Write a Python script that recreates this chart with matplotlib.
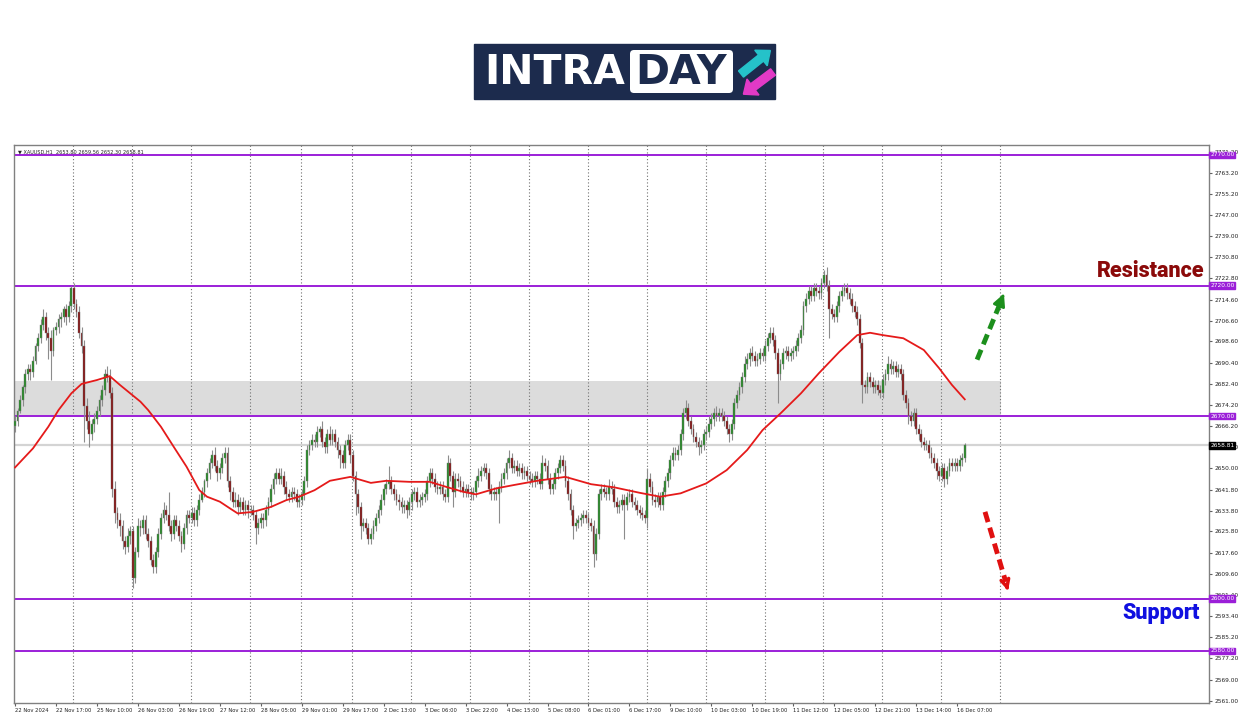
import numpy as np
import matplotlib.pyplot as plt
from matplotlib.patches import Rectangle, FancyBboxPatch, FancyArrow

# XAUUSD H1 closes, one list per trading day (22 Nov .. 16 Dec)
d1 = [2668, 2672, 2676, 2681, 2686, 2688, 2687, 2691, 2697, 2700, 2705, 2708, 2702, 2700, 2695, 2703, 2704, 2707, 2708, 2711, 2708, 2712, 2719]
d2 = [2713, 2710, 2702, 2697, 2674, 2668, 2663, 2667, 2669, 2672, 2676, 2680, 2686, 2685, 2679, 2642, 2633, 2630, 2628, 2622, 2620, 2624, 2626]
d3 = [2608, 2618, 2628, 2627, 2630, 2625, 2622, 2615, 2612, 2618, 2625, 2631, 2634, 2632, 2628, 2625, 2630, 2628, 2624, 2621, 2627, 2632, 2631]
d4 = [2633, 2630, 2634, 2638, 2641, 2645, 2648, 2652, 2655, 2651, 2648, 2650, 2654, 2656, 2645, 2641, 2637, 2638, 2635, 2637, 2634, 2636, 2634]
d5 = [2634, 2632, 2627, 2629, 2631, 2630, 2634, 2637, 2642, 2646, 2648, 2646, 2647, 2643, 2640, 2639, 2641, 2640, 2637, 2638]
d6 = [2640, 2645, 2657, 2659, 2661, 2660, 2664, 2665, 2660, 2658, 2663, 2661, 2663, 2660, 2657, 2655, 2652, 2659, 2661, 2655]
d7 = [2647, 2640, 2635, 2628, 2629, 2627, 2623, 2625, 2628, 2631, 2634, 2638, 2642, 2644, 2645, 2642, 2640, 2638, 2637, 2635, 2636, 2634, 2637]
d8 = [2640, 2641, 2637, 2638, 2639, 2640, 2645, 2648, 2646, 2643, 2642, 2643, 2640, 2639, 2652, 2647, 2641, 2646, 2645, 2643, 2641, 2642, 2641]
d9 = [2640, 2641, 2645, 2647, 2649, 2650, 2648, 2642, 2640, 2641, 2640, 2643, 2646, 2648, 2652, 2654, 2650, 2651, 2649, 2650, 2648, 2649, 2647]
d10 = [2646, 2645, 2647, 2646, 2644, 2652, 2651, 2646, 2642, 2644, 2648, 2650, 2653, 2651, 2645, 2640, 2634, 2628, 2629, 2630, 2631, 2632, 2631]
d11 = [2629, 2628, 2617, 2625, 2640, 2642, 2641, 2640, 2643, 2642, 2637, 2635, 2636, 2638, 2636, 2639, 2640, 2637, 2636, 2634, 2633, 2632, 2631]
d12 = [2646, 2643, 2638, 2637, 2639, 2636, 2641, 2645, 2648, 2653, 2656, 2655, 2657, 2663, 2671, 2673, 2668, 2665, 2662, 2660, 2658, 2659, 2663]
d13 = [2664, 2667, 2669, 2671, 2670, 2671, 2670, 2668, 2665, 2663, 2667, 2675, 2678, 2681, 2685, 2690, 2692, 2694, 2693, 2691, 2692, 2694, 2693]
d14 = [2697, 2700, 2702, 2699, 2694, 2686, 2690, 2694, 2695, 2693, 2694, 2695, 2697, 2700, 2703, 2712, 2715, 2718, 2716, 2719, 2718, 2717, 2721]
d15 = [2724, 2720, 2711, 2709, 2708, 2712, 2716, 2718, 2719, 2717, 2715, 2712, 2710, 2707, 2698, 2682, 2681, 2685, 2683, 2681, 2682, 2680, 2679]
d16 = [2684, 2686, 2690, 2688, 2689, 2687, 2688, 2686, 2678, 2675, 2670, 2668, 2671, 2665, 2663, 2660, 2659, 2659, 2656, 2654, 2652, 2649, 2647]
d17 = [2650, 2646, 2649, 2652, 2651, 2652, 2651, 2653, 2653.8, 2658.81]

# wick length above / below the body
u1 = [2,1,2,1,2,2,2,2,1,2,2,3,2,2,3,1,2,2,2,1,2,2,1]
u2 = [2,2,2,2,2,3,4,2,2,2,2,2,2,3,3,2,3,2,3,2,2,3,2]
u3 = [2,2,3,2,2,2,2,2,2,2,2,2,3,2,9,2,2,2,2,2,2,2,2]
u4 = [2,2,2,2,2,1,2,2,2,3,2,2,2,2,2,2,2,3,2,2,2,2,2]
u5 = [2,2,2,2,2,2,2,2,2,2,2,2,3,2,2,2,2,2,2,2]
u6 = [2,2,2,2,2,2,2,1,3,2,2,3,2,2,2,2,2,2,2,2]
u7 = [2,2,2,2,2,2,2,2,2,2,2,2,2,2,6,2,2,2,2,2,2,2,2]
u8 = [2,2,2,2,2,2,2,2,2,2,2,2,2,2,3,2,2,2,2,2,2,2,2]
u9 = [2,2,2,3,2,2,2,2,2,2,2,2,2,2,2,3,2,2,2,2,2,2,2]
u10 = [2,2,2,2,2,3,2,2,2,2,2,2,2,2,2,2,2,2,2,2,2,2,2]
u11 = [2,2,2,2,2,2,2,2,3,2,2,2,2,2,2,2,2,2,2,2,2,2,2]
u12 = [4,2,2,2,2,2,2,2,2,2,2,2,2,2,2,3,2,2,2,2,2,2,2]
u13 = [2,3,2,2,3,2,2,2,2,2,2,2,2,2,2,3,2,2,3,2,2,2,2]
u14 = [2,2,2,2,2,2,2,2,2,2,2,2,2,2,2,2,2,2,2,2,2,2,2]
u15 = [2,3,2,2,2,2,2,2,2,2,2,2,2,2,2,2,2,2,2,2,2,2,2]
u16 = [2,2,3,2,2,2,2,2,2,2,2,2,2,2,2,2,2,2,2,2,2,2,2]
u17 = [2,2,2,2,2,2,2,2,2,0.75]

l1 = [2,2,1,2,2,2,3,2,1,2,2,2,3,8,11,2,2,2,3,2,3,2,2]
l2 = [2,2,2,3,14,3,5,2,3,2,2,2,2,2,2,3,4,3,4,3,3,2,3]
l3 = [4,2,2,3,2,2,2,2,2,2,2,2,2,2,2,3,2,2,2,3,2,2,2]
l4 = [2,2,2,2,1,2,2,2,2,2,3,2,2,2,2,3,2,2,3,2,2,2,3]
l5 = [2,2,6,2,2,3,2,2,2,2,2,2,2,3,2,2,2,2,2,2]
l6 = [2,2,2,2,2,2,2,2,2,2,2,2,2,2,3,5,2,2,2,3]
l7 = [2,8,2,5,2,2,2,2,2,2,2,2,2,2,2,2,2,2,3,2,2,3,2]
l8 = [3,2,2,2,2,2,2,2,2,2,2,2,2,2,2,2,6,2,2,2,2,2,2]
l9 = [2,2,2,2,2,2,2,2,2,2,2,11,2,2,2,2,2,2,2,2,2,2,2]
l10 = [2,2,2,2,2,2,2,2,2,2,2,2,2,2,2,2,2,5,2,2,2,2,2]
l11 = [2,2,5,2,2,2,2,2,2,2,2,2,2,2,13,2,2,2,2,2,2,2,2]
l12 = [4,2,2,2,2,2,2,2,2,2,2,2,2,2,2,2,2,2,2,2,3,2,2]
l13 = [2,2,2,3,2,2,2,2,2,3,2,2,2,2,2,2,2,3,2,2,2,2,2]
l14 = [2,2,2,2,2,11,2,2,2,2,2,2,2,2,2,2,2,2,2,2,2,2,2]
l15 = [2,2,11,2,2,2,2,2,2,2,2,2,2,2,2,7,2,2,2,2,2,2,2]
l16 = [2,2,2,2,2,2,2,2,2,2,3,2,2,2,2,2,2,2,2,2,2,3,2]
l17 = [2,3,2,2,2,2,2,2,2,1.5]

first_open = 2666.0

# red moving average, read at bar positions
ma_idx = [0, 7, 13, 17, 22, 26, 32, 37, 41, 45, 49, 52, 57, 62, 67, 72, 75, 80, 84, 87, 93, 100,
          106, 111, 117, 123, 131, 139, 145, 154, 162, 169, 175, 180, 188, 195, 204, 215, 225, 234,
          244, 252, 260, 270, 278, 286, 292, 299, 307, 314, 322, 329, 334, 339, 347, 355, 361, 366, 371]
ma_val = [2650.3, 2657.6, 2665.9, 2672.3, 2678.7, 2682.3, 2683.8, 2685.3, 2681.9, 2678.7, 2675.5,
          2672.3, 2665.9, 2658.2, 2650.6, 2641.6, 2639.1, 2637.2, 2634.6, 2632.7, 2633.3, 2635.2,
          2637.8, 2639.1, 2641.6, 2645.2, 2646.7, 2644.4, 2645.2, 2644.8, 2644.8, 2642.7, 2641.0,
          2640.0, 2642.3, 2643.6, 2645.2, 2646.7, 2643.9, 2642.7, 2640.6, 2639.1, 2640.4, 2644.2,
          2649.3, 2657.0, 2664.6, 2671.0, 2678.7, 2686.4, 2694.6, 2701.0, 2701.9, 2701.0, 2699.8,
          2695.3, 2688.3, 2681.9, 2676.4]

levels = [2770, 2720, 2670, 2600, 2580]
zone = (2670, 2683.5)
last_price = 2658.81
day_starts = [23, 46, 69, 92, 112, 132, 155, 178, 201, 224, 247, 270, 293, 316, 339, 362, 385]

yticks = [2561.00, 2569.00, 2577.20, 2585.20, 2593.40, 2601.40, 2609.60, 2617.60, 2625.80, 2633.80,
          2641.80, 2650.00, 2658.00, 2666.20, 2674.20, 2682.40, 2690.40, 2698.60, 2706.60, 2714.60,
          2722.80, 2730.80, 2739.00, 2747.00, 2755.20, 2763.20, 2771.20]
xtick_labels = ['22 Nov 2024', '22 Nov 17:00', '25 Nov 10:00', '26 Nov 03:00', '26 Nov 19:00',
                '27 Nov 12:00', '28 Nov 05:00', '29 Nov 01:00', '29 Nov 17:00', '2 Dec 13:00',
                '3 Dec 06:00', '3 Dec 22:00', '4 Dec 15:00', '5 Dec 08:00', '6 Dec 01:00',
                '6 Dec 17:00', '9 Dec 10:00', '10 Dec 03:00', '10 Dec 19:00', '11 Dec 12:00',
                '12 Dec 05:00', '12 Dec 21:00', '13 Dec 14:00', '16 Dec 07:00']

closes = np.array(d1 + d2 + d3 + d4 + d5 + d6 + d7 + d8 + d9 + d10 + d11 + d12 + d13 + d14 + d15 + d16 + d17, float)
up = np.array(u1 + u2 + u3 + u4 + u5 + u6 + u7 + u8 + u9 + u10 + u11 + u12 + u13 + u14 + u15 + u16 + u17, float)
dn = np.array(l1 + l2 + l3 + l4 + l5 + l6 + l7 + l8 + l9 + l10 + l11 + l12 + l13 + l14 + l15 + l16 + l17, float)
assert len(closes) == len(up) == len(dn) == 372, (len(closes), len(up), len(dn))

opens = np.r_[first_open, closes[:-1]]
x = np.arange(len(closes))
hi = np.maximum(opens, closes) + up
lo = np.minimum(opens, closes) - dn

purple = '#9b1fd8'

fig = plt.figure(figsize=(12.5, 7.16), dpi=100)
ax = fig.add_axes([14 / 1250, 13 / 716, 1195 / 1250, 558 / 716])
ax.set_xlim(-0.4, 466.4)
ax.set_ylim(2560.08, 2773.83)

# shaded zone, grid, levels
ax.add_patch(Rectangle((-0.4, zone[0]), 385.4, zone[1] - zone[0], color='#dcdcdc', zorder=1, lw=0))
for d in day_starts:
    ax.axvline(d - 0.2, color='#707070', lw=0.8, ls=(0, (1, 2)), zorder=1.5)
ax.axhline(last_price, color='#d4d4d4', lw=1.6, zorder=1.6)
for lv in levels:
    ax.axhline(lv, color=purple, lw=1.4, zorder=2)

# candles
ax.vlines(x, lo, hi, color='#8c8c8c', lw=0.8, zorder=3)
body = np.maximum(np.abs(closes - opens), 0.3)
bull = closes >= opens
ax.bar(x[bull], body[bull], bottom=opens[bull], width=0.7, color='#248a24', edgecolor='#7a7a7a', lw=0.3, zorder=4)
ax.bar(x[~bull], body[~bull], bottom=closes[~bull], width=0.7, color='#861010', edgecolor='#7a7a7a', lw=0.3, zorder=4)

ax.plot(ma_idx, ma_val, color='#e51a1a', lw=1.3, zorder=5, solid_joinstyle='round')

# arrows
ax.plot([375.8, 385.0], [2691.6, 2713.6], color='#1c8f1c', lw=3.5, dashes=(2.2, 1.2), zorder=6)
ax.annotate('', xy=(386.3, 2716.9), xytext=(385.8, 2715.7),
            arrowprops=dict(arrowstyle='-|>', color='#1c8f1c', lw=2, mutation_scale=18, shrinkA=0, shrinkB=0), zorder=6)
ax.plot([378.9, 387.0], [2633.3, 2606.5], color='#e01010', lw=3.5, dashes=(2.2, 1.2), zorder=6)
ax.annotate('', xy=(387.9, 2603.1), xytext=(387.5, 2604.5),
            arrowprops=dict(arrowstyle='->', color='#e01010', lw=2.5, mutation_scale=14, shrinkA=0, shrinkB=0), zorder=6)

ax.text(464.5, 2725.7, 'Resistance', color='#8b0a0a', fontsize=15.5, fontweight='heavy',
        family='Roboto', ha='right', va='center', zorder=7)
ax.text(462.9, 2594.6, 'Support', color='#1010e0', fontsize=15.5, fontweight='heavy',
        family='Roboto', ha='right', va='center', zorder=7)

ax.text(0.003, 0.993, '\u25bc XAUUSD,H1  2653.80 2659.56 2652.30 2658.81', transform=ax.transAxes,
        fontsize=3.6, color='#222222', va='top', ha='left', zorder=7)

# axes styling
for s in ax.spines.values():
    s.set_color('#808080')
    s.set_linewidth(1)
ax.yaxis.tick_right()
ax.set_yticks(yticks)
ax.set_yticklabels([f'{v:.2f}' for v in yticks])
ax.tick_params(axis='y', labelsize=4.2, length=2, pad=2, color='#606060', labelcolor='#222222')
ax.set_xticks(np.arange(0, 369, 16))
ax.set_xticklabels(xtick_labels)
for lbl in ax.get_xticklabels():
    lbl.set_ha('left')
ax.tick_params(axis='x', labelsize=3.8, length=2, pad=1.5, color='#606060', labelcolor='#222222')

ytr = ax.get_yaxis_transform()
for lv in levels:
    ax.text(1.001, lv, f'{lv:.2f}', transform=ytr, fontsize=4.2, color='white', va='center', ha='left',
            bbox=dict(boxstyle='square,pad=0.15', fc=purple, ec=purple), clip_on=False, zorder=10)
ax.text(1.001, last_price, f'{last_price:.2f}', transform=ytr, fontsize=4.2, color='white', va='center',
        ha='left', bbox=dict(boxstyle='square,pad=0.15', fc='black', ec='black'), clip_on=False, zorder=10)

# logo
lg = fig.add_axes([0, 0, 1, 1])
lg.set_xlim(0, 1250)
lg.set_ylim(716, 0)
lg.axis('off')
lg.add_patch(Rectangle((474, 44), 301, 55, color='#1c2b4d'))
lg.add_patch(FancyBboxPatch((630, 50), 103, 43, boxstyle='round,pad=0,rounding_size=4', fc='white', ec='none'))
lg.text(484, 73, 'INTRA', color='white', fontsize=29.5, fontweight='bold', family='DejaVu Sans', va='center', ha='left')
lg.text(681, 73, 'DAY', color='#1c2b4d', fontsize=29.5, fontweight='bold', family='DejaVu Sans', va='center', ha='center')
lg.add_patch(FancyArrow(741, 74, 20, -16, width=8, head_width=20, head_length=12, color='#25c2c9'))
lg.add_patch(FancyArrow(773, 72, -20, 15, width=8, head_width=20, head_length=12, color='#e23ac6'))

fig.savefig('out.png', dpi=100)
